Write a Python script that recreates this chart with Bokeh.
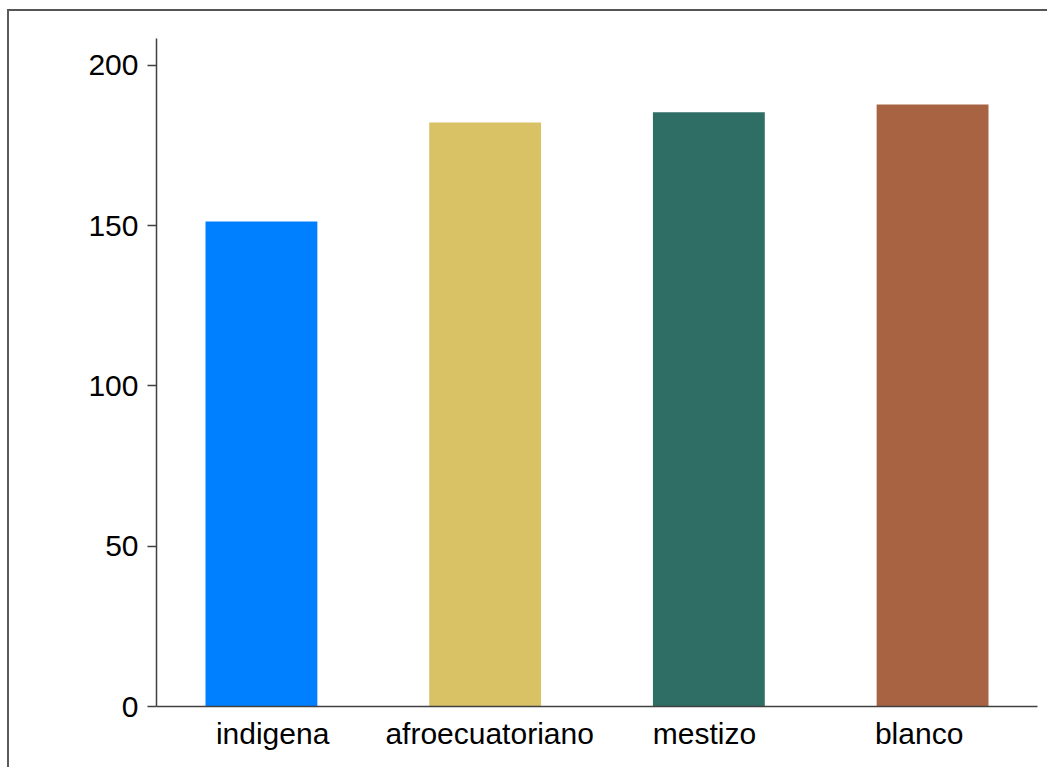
from bokeh.plotting import figure
from bokeh.models import Range1d, FixedTicker, ColumnDataSource
from bokeh.embed import file_html
from bokeh.resources import INLINE

categories = ["indigena", "afroecuatoriano", "mestizo", "blanco"]
values = [151.3, 182.2, 185.4, 187.8]
colors = ["#0080FF", "#D9C266", "#2E6E64", "#A86442"]
y_ticks = [0, 50, 100, 150, 200]

xpos = list(range(1, len(categories) + 1))
# label anchor positions (slightly narrower spread than the bars, as in the original)
label_pos = [1.05, 2.02, 2.98, 3.94]

src = ColumnDataSource(dict(x=xpos, top=values, color=colors, cat=categories))

p = figure(width=1040, height=758, output_backend="svg", toolbar_location=None,
           x_range=Range1d(0.531, len(categories) + 0.469), y_range=Range1d(0, 208.4),
           min_border_left=147, min_border_right=12, min_border_top=27, min_border_bottom=63)
p.margin = (9, 0, 0, 7)
p.styles = {"border-top": "2px solid #555555", "border-left": "2px solid #5a5a5a"}

p.vbar(x="x", top="top", width=0.5, bottom=0, color="color", source=src, line_color=None)

p.grid.visible = False
p.outline_line_color = None
p.background_fill_color = "white"
p.border_fill_color = "white"

font = "Liberation Sans"
ya = p.yaxis[0]
ya.ticker = FixedTicker(ticks=y_ticks)
ya.minor_tick_line_color = None
ya.major_tick_in = 0
ya.major_tick_out = 9
ya.major_label_text_font = font
ya.major_label_text_font_size = "30px"
ya.major_label_text_color = "black"
ya.major_label_standoff = 9
ya.axis_line_color = "#404040"
ya.axis_line_width = 1.5
ya.major_tick_line_color = "#404040"
ya.major_tick_line_width = 1.5

xa = p.xaxis[0]
xa.ticker = FixedTicker(ticks=label_pos)
xa.major_label_overrides = {x: c for x, c in zip(label_pos, categories)}
xa.minor_tick_line_color = None
xa.major_tick_in = 0
xa.major_tick_out = 0
xa.major_tick_line_color = None
xa.major_label_text_font = font
xa.major_label_text_font_size = "30px"
xa.major_label_text_color = "black"
xa.major_label_standoff = 10
xa.axis_line_color = "#404040"
xa.axis_line_width = 1.5

open("out.html", "w").write(file_html(p, INLINE))
